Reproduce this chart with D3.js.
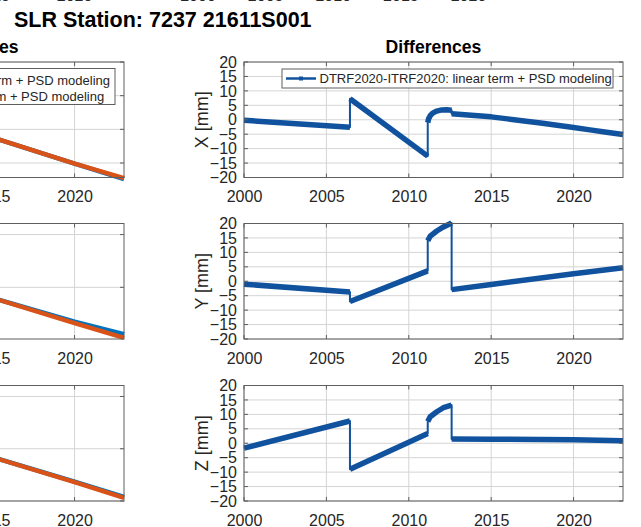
<!DOCTYPE html>
<html>
<head>
<meta charset="utf-8">
<script src="https://cdn.jsdelivr.net/npm/d3@7"></script>
<style>
  body { margin: 0; background: #fff; }
  svg { display: block; font-family: "Liberation Sans", Arial, Helvetica, sans-serif; }
</style>
</head>
<body>
<svg width="641" height="527"></svg>
<script>
// ---- data ----
const yearTicks = [2000, 2005, 2010, 2015, 2020];
const diffTicks = [-20, -15, -10, -5, 0, 5, 10, 15, 20];
const components = ["X", "Y", "Z"];

// DTRF2020-ITRF2020 differences [year, mm], split where the series jumps
const diffX = [
  [[2000, -0.2], [2006.43, -2.6]],
  [[2006.43, 7.3], [2011.15, -12.6]],
  [[2011.15, -1.0], [2011.2, 0.3], [2011.3, 1.4], [2011.45, 2.3], [2011.7, 3.0], [2012.0, 3.4], [2012.3, 3.5], [2012.6, 3.3]],
  [[2012.6, 2.1], [2013, 1.9], [2014, 1.5], [2015, 1.0], [2016, 0.3], [2017, -0.4], [2018, -1.1], [2019, -1.9], [2020, -2.7], [2021, -3.5], [2022, -4.3], [2023, -5.1]]
];
const diffY = [
  [[2000, -1.0], [2006.43, -3.7]],
  [[2006.43, -7.0], [2011.15, 3.6]],
  [[2011.15, 14.0], [2011.3, 15.6], [2011.7, 17.4], [2012.1, 18.8], [2012.6, 20.2]],
  [[2012.6, -2.9], [2015, -1.1], [2020, 2.6], [2023, 4.7]]
];
const diffZ = [
  [[2000, -1.7], [2006.43, 7.7]],
  [[2006.43, -9.0], [2011.15, 3.4]],
  [[2011.15, 7.5], [2011.3, 9.2], [2011.7, 10.9], [2012.1, 12.3], [2012.6, 13.2]],
  [[2012.6, 1.5], [2015, 1.4], [2020, 1.2], [2023, 0.9]]
];

// left column: coordinate series (only the end is in view)
const seriesYears = [2000, 2005, 2010, 2015, 2020, 2023];
const dtrfX = [0, -75, -150, -224, -302, -348];
const itrfX = [0, -75, -150, -224, -302, -345];
const dtrfY = [20, -30, -75, -120, -165, -189];
const itrfY = [20, -30, -75, -120, -168, -196];
const dtrfZ = [20, -30, -75, -116, -163, -192];
const itrfZ = [20, -30, -75, -116, -164, -194];
const leftDomains = [[-343, 0], [-198, 21], [-200, 21]];
const leftTicks = [[-300, -200, -100, 0], [-200, -100, 0], [-200, -100, 0]];

const legendLeft = ["DTRF2020: linear term + PSD modeling", "ITRF2020: linear term + PSD modeling"];
const legendRight = "DTRF2020-ITRF2020: linear term + PSD modeling";
const topCutLeft = [2015, 2020];
const topCutRight = [2000, 2005, 2010, 2015, 2020];

// ---- layout ----
const svg = d3.select("svg");
const rowTop = [62, 223.5, 385.5];
const rowH = 115.5;
const rightCol = [244, 623];
const leftCol = [-255, 124];
const boxColor = "#5e5e5e";
const gridColor = "#d4d4d4";
const textColor = "#262626";
const lineBlue = "#10529e";
const mBlue = "#0072BD", mOrange = "#D95319";

const xRight = d3.scaleLinear().domain([2000, 2023]).range(rightCol);
const xLeft = d3.scaleLinear().domain([2000, 2023]).range(leftCol);

function frame(g, x, y, xt, yt) {
  const [x0, x1] = x.range();
  const [y1, y0] = y.range();
  g.append("g").selectAll("line").data(xt).join("line")
    .attr("x1", d => x(d)).attr("x2", d => x(d)).attr("y1", y0).attr("y2", y1)
    .attr("stroke", gridColor);
  g.append("g").selectAll("line").data(yt).join("line")
    .attr("x1", x0).attr("x2", x1).attr("y1", d => y(d)).attr("y2", d => y(d))
    .attr("stroke", gridColor);
}

function box(g, x, y, xt, yt) {
  const [x0, x1] = x.range();
  const [y1, y0] = y.range();
  const t = g.append("g").attr("stroke", boxColor);
  xt.forEach(d => {
    t.append("line").attr("x1", x(d)).attr("x2", x(d)).attr("y1", y1).attr("y2", y1 - 4);
    t.append("line").attr("x1", x(d)).attr("x2", x(d)).attr("y1", y0).attr("y2", y0 + 4);
  });
  yt.forEach(d => {
    t.append("line").attr("x1", x0).attr("x2", x0 + 4).attr("y1", y(d)).attr("y2", y(d));
    t.append("line").attr("x1", x1).attr("x2", x1 - 4).attr("y1", y(d)).attr("y2", y(d));
  });
  g.append("rect").attr("x", x0).attr("y", y0).attr("width", x1 - x0).attr("height", y1 - y0)
    .attr("fill", "none").attr("stroke", boxColor);
}

function xLabels(g, x, bottom) {
  g.append("g").attr("transform", `translate(0,${bottom})`)
    .call(d3.axisBottom(x).tickValues(yearTicks).tickFormat(d3.format("d")).tickSize(0).tickPadding(13.6))
    .call(a => a.select(".domain").remove())
    .attr("font-size", 16).attr("font-family", null)
    .selectAll("text").attr("fill", textColor);
}

// ---- titles ----
svg.append("text").attr("x", 14).attr("y", 26.5)
  .attr("font-size", 21.5).attr("font-weight", "bold").attr("fill", "#000")
  .text("SLR Station: 7237 21611S001");
svg.append("text").attr("x", (rightCol[0] + rightCol[1]) / 2).attr("y", 53)
  .attr("text-anchor", "middle").attr("font-size", 17.6).attr("font-weight", "bold").attr("fill", "#000")
  .text("Differences");
svg.append("text").attr("x", 18.5).attr("y", 53)
  .attr("text-anchor", "end").attr("font-size", 17.6).attr("font-weight", "bold").attr("fill", "#000")
  .text("Position time series");

// cut-off tick labels of the figure above
const xTopCut = d3.scaleLinear().domain([2000, 2020]).range([198, 468.5]);
svg.append("g").attr("font-size", 16).attr("fill", textColor).attr("text-anchor", "middle")
  .selectAll("text").data(topCutLeft.map(d => xLeft(d)).concat(topCutRight.map(d => xTopCut(d))))
  .join("text").attr("x", d => d).attr("y", 1.2)
  .text((d, i) => i < topCutLeft.length ? topCutLeft[i] : topCutRight[i - topCutLeft.length]);

// ---- right column: differences ----
const diffs = [diffX, diffY, diffZ];
components.forEach((c, i) => {
  const top = rowTop[i], bottom = top + rowH;
  const y = d3.scaleLinear().domain([-20, 20]).range([bottom, top]);
  const g = svg.append("g");
  frame(g, xRight, y, yearTicks, diffTicks);

  const line = d3.line().x(d => xRight(d[0])).y(d => y(d[1]));
  g.append("path").attr("d", line(diffs[i].flat()))
    .attr("fill", "none").attr("stroke", lineBlue).attr("stroke-width", 2).attr("stroke-linejoin", "round");
  g.append("g").selectAll("path").data(diffs[i]).join("path")
    .attr("d", line)
    .attr("fill", "none").attr("stroke", lineBlue).attr("stroke-width", 5.5)
    .attr("stroke-linejoin", "round");

  box(g, xRight, y, yearTicks, diffTicks);

  g.append("g").attr("transform", `translate(${rightCol[0]},0)`)
    .call(d3.axisLeft(y).tickValues(diffTicks).tickSize(0).tickPadding(7))
    .call(a => a.select(".domain").remove())
    .attr("font-size", 16).attr("font-family", null)
    .selectAll("text").attr("fill", textColor);
  xLabels(g, xRight, bottom);

  g.append("text")
    .attr("transform", `translate(208,${(top + bottom) / 2}) rotate(-90)`)
    .attr("text-anchor", "middle").attr("font-size", 18).attr("fill", textColor)
    .text(`${c} [mm]`);
});

// legend (X panel)
{
  const lg = svg.append("g");
  lg.append("rect").attr("x", 282).attr("y", 69).attr("width", 331).attr("height", 19)
    .attr("fill", "#fff").attr("stroke", boxColor);
  lg.append("line").attr("x1", 286).attr("x2", 316).attr("y1", 78.5).attr("y2", 78.5)
    .attr("stroke", lineBlue).attr("stroke-width", 2.5);
  lg.append("rect").attr("x", 299).attr("y", 76.5).attr("width", 4).attr("height", 4).attr("fill", lineBlue);
  lg.append("text").attr("x", 319.5).attr("y", 83.3).attr("font-size", 13).attr("fill", textColor)
    .text(legendRight);
}

// ---- left column: coordinates ----
const leftSeries = [[dtrfX, itrfX], [dtrfY, itrfY], [dtrfZ, itrfZ]];
components.forEach((c, i) => {
  const top = rowTop[i], bottom = top + rowH;
  const y = d3.scaleLinear().domain(leftDomains[i]).range([bottom, top]);
  const yt = leftTicks[i].filter(v => v >= leftDomains[i][0] && v <= leftDomains[i][1]);
  const g = svg.append("g");
  frame(g, xLeft, y, yearTicks, yt);
  const line = d3.line().x((d, k) => xLeft(seriesYears[k])).y(d => y(d));
  g.append("path").attr("d", line(leftSeries[i][0]))
    .attr("fill", "none").attr("stroke", mBlue).attr("stroke-width", 4.5);
  g.append("path").attr("d", line(leftSeries[i][1]))
    .attr("fill", "none").attr("stroke", mOrange).attr("stroke-width", 4.5);
  box(g, xLeft, y, yearTicks, yt);
  xLabels(g, xLeft, bottom);
});

// legend (left X panel)
{
  const lg = svg.append("g");
  lg.append("rect").attr("x", -200).attr("y", 68.5).attr("width", 315).attr("height", 36)
    .attr("fill", "#fff").attr("stroke", boxColor);
  const texts = lg.selectAll("text").data(legendLeft).join("text")
    .attr("x", 0).attr("y", (d, k) => 84.5 + k * 16.5)
    .attr("font-size", 13).attr("fill", textColor).text(d => d);
  const len = texts.nodes()[0].getComputedTextLength();
  const x0 = 110 - len;
  texts.attr("x", x0);
  [mBlue, mOrange].forEach((col, k) => {
    lg.append("line").attr("x1", x0 - 34).attr("x2", x0 - 4)
      .attr("y1", 80 + k * 16.5).attr("y2", 80 + k * 16.5)
      .attr("stroke", col).attr("stroke-width", 2.5);
  });
}
</script>
</body>
</html>
